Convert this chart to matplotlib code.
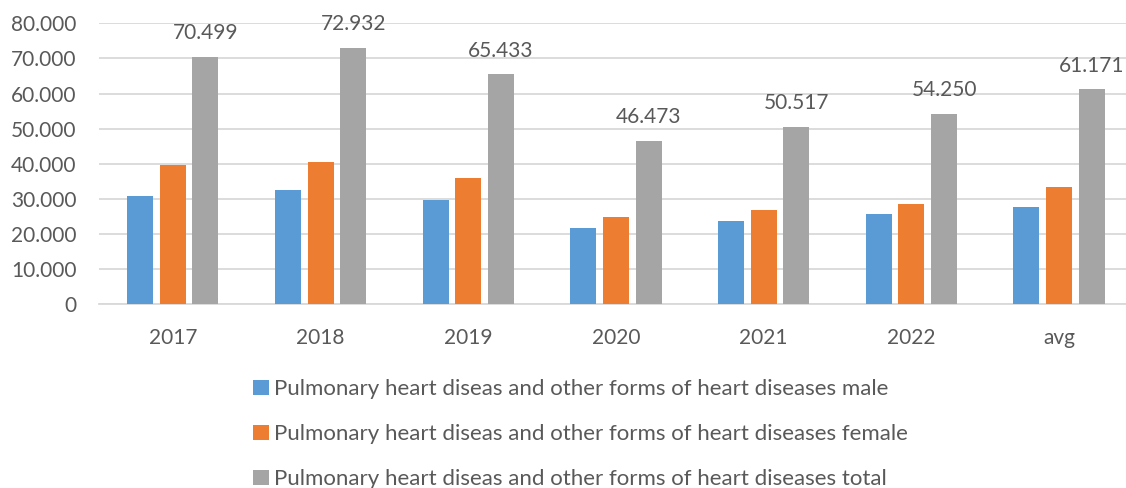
import matplotlib
matplotlib.use("Agg")
import matplotlib.pyplot as plt
import numpy as np
from matplotlib.patches import Patch

categories = ["2017", "2018", "2019", "2020", "2021", "2022", "avg"]
male = [30700, 32500, 29600, 21600, 23700, 25600, 27700]
female = [39799, 40432, 35833, 24873, 26817, 28650, 33471]
total = [70499, 72932, 65433, 46473, 50517, 54250, 61171]
series_names = [
    "Pulmonary heart diseas and other forms of heart diseases male",
    "Pulmonary heart diseas and other forms of heart diseases female",
    "Pulmonary heart diseas and other forms of heart diseases total",
]
colors = ["#5B9BD5", "#ED7D31", "#A5A5A5"]
yticks = [0, 10000, 20000, 30000, 40000, 50000, 60000, 70000, 80000]

def fmt(v):
    return f"{int(round(v)):,}".replace(",", ".")

plt.rcParams['font.family'] = ['Lato', 'DejaVu Sans']
fig = plt.figure(figsize=(11.26, 4.88), dpi=100)
ax = fig.add_axes([0.0879, 0.3764, 0.9183, 0.5758])

x = np.arange(len(categories))
w = 0.176
step = 0.221
for i, (vals, c) in enumerate(zip([male, female, total], colors)):
    ax.bar(x + (i - 1) * step, vals, width=w, color=c, zorder=3)

for xi, v in zip(x, total):
    ax.annotate(fmt(v), (xi + step, v), xytext=(0, 10), textcoords="offset points",
                ha="center", va="bottom", fontsize=15, color="#595959")

ax.set_xlim(-0.5, len(categories) - 0.5)
ax.set_ylim(0, 80000)
ax.set_yticks(yticks)
ax.set_yticklabels([fmt(t) for t in yticks])
ax.set_xticks(x)
ax.set_xticklabels(categories)
ax.tick_params(axis='both', length=0, labelsize=15, labelcolor="#595959")
ax.tick_params(axis='y', pad=16)
ax.tick_params(axis='x', pad=17)
ax.grid(axis='y', color="#D9D9D9", linewidth=1.3, zorder=0)
for s in ["top", "right", "left"]:
    ax.spines[s].set_visible(False)
ax.spines["bottom"].set_color("#D9D9D9")
ax.spines["bottom"].set_linewidth(1.3)

handles = [Patch(facecolor=c, edgecolor="none") for c in colors]
fig.legend(handles, series_names, loc="upper left", bbox_to_anchor=(0.2247, 0.223),
           frameon=False, fontsize=16, labelcolor="#595959", handlelength=0.7,
           handleheight=0.7, handletextpad=0.25, labelspacing=1.13, borderpad=0, borderaxespad=0)

fig.savefig("out.png", dpi=100)
